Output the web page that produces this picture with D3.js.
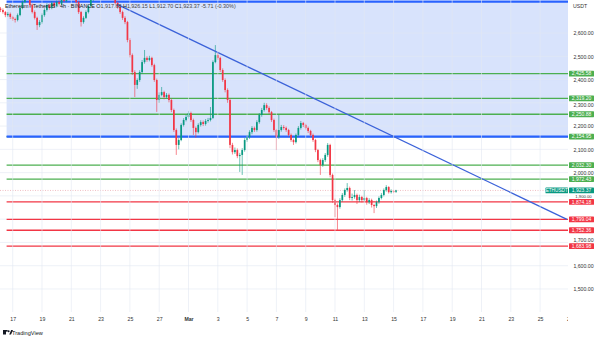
<!DOCTYPE html>
<html><head><meta charset="utf-8">
<script src="https://cdn.jsdelivr.net/npm/d3@7"></script>
<style>
html,body{margin:0;padding:0;background:#fff;}
svg{display:block;font-family:"Liberation Sans",Arial,sans-serif;}
</style></head>
<body>
<svg id="chart" width="600" height="339"></svg>
<script>
// ---- DATA (4h candles, BINANCE ETHUSDT) ----
const firstCandle = new Date(2025, 1, 16, 4, 0); // Feb 16 04:00
const firstOpen = 2705;
const closes = [
 2699,2690,2677,2682,2669,2660,2656,2677,2708,2733,
 2755,2764,2720,2690,2665,2634,2647,2677,2699,2720,
 2708,2729,2716,2733,2725,2751,2738,2755,2764,2751,
 2764,2733,2690,2647,2665,2690,2716,2742,2764,2785,
 2776,2794,2785,2776,2794,2785,2764,2729,2712,2690,
 2665,2647,2570,2505,2432,2377,2398,2432,2475,2493,
 2484,2493,2462,2398,2312,2334,2346,2325,2334,2312,
 2269,2183,2119,2140,2205,2226,2239,2256,2226,2192,
 2174,2205,2217,2209,2222,2226,2235,2475,2505,2493,
 2441,2398,2355,2312,2119,2088,2097,2071,2076,2097,
 2140,2153,2174,2192,2183,2217,2248,2269,2290,2278,
 2260,2226,2183,2153,2183,2196,2192,2183,2162,2140,
 2131,2162,2192,2213,2205,2192,2179,2162,2140,2097,
 2054,2033,2054,2076,2119,1990,1882,1861,1852,1882,
 1904,1925,1934,1891,1895,1904,1882,1895,1882,1891,
 1873,1882,1861,1856,1873,1891,1904,1925,1938,1916,
 1921,1917.68,1923.37];
const highs = [
 2712,2706,2695,2690,2688,2674,2666,2684,2715,2740,
 2768,2778,2770,2726,2697,2670,2655,2684,2706,2728,
 2726,2736,2735,2740,2741,2760,2757,2765,2775,2772,
 2776,2770,2738,2695,2672,2697,2722,2750,2772,2795,
 2798,2810,2805,2795,2808,2802,2792,2770,2735,2718,
 2696,2672,2652,2578,2512,2440,2405,2440,2484,2527,
 2500,2502,2498,2468,2404,2345,2368,2352,2342,2340,
 2318,2275,2190,2148,2212,2234,2248,2265,2262,2232,
 2198,2212,2225,2224,2230,2235,2282,2482,2548,2515,
 2498,2448,2405,2362,2318,2128,2108,2104,2085,2105,
 2148,2162,2182,2200,2198,2225,2256,2278,2300,2298,
 2285,2265,2232,2188,2248,2205,2204,2198,2188,2168,
 2146,2168,2200,2222,2218,2210,2198,2184,2168,2145,
 2102,2060,2062,2084,2127,2124,1996,1888,1868,1890,
 1912,1932,1955,1940,1910,1925,1910,1905,1900,1925,
 1896,1890,1888,1866,1880,1898,1912,1932,1946,1942,
 1928,1926,1926.15];
const lows = [
 2690,2683,2668,2670,2660,2652,2645,2650,2672,2702,
 2728,2748,2712,2684,2658,2613,2625,2640,2670,2692,
 2700,2702,2710,2710,2718,2720,2731,2732,2748,2744,
 2745,2726,2682,2628,2640,2660,2684,2710,2736,2758,
 2768,2770,2778,2768,2770,2778,2756,2722,2704,2682,
 2656,2638,2560,2495,2420,2325,2360,2390,2425,2468,
 2476,2478,2455,2390,2261,2300,2328,2315,2318,2302,
 2260,2175,2076,2100,2135,2198,2220,2232,2218,2162,
 2150,2168,2198,2200,2202,2215,2220,2230,2470,2485,
 2432,2390,2345,2300,2105,2078,2080,2062,2003,1990,
 2090,2132,2145,2165,2175,2176,2210,2240,2262,2270,
 2252,2218,2175,2097,2145,2176,2184,2175,2155,2132,
 2119,2125,2155,2185,2196,2185,2170,2155,2132,2088,
 2045,1990,2025,2046,2068,1980,1870,1809,1754,1845,
 1875,1896,1918,1882,1880,1888,1865,1874,1872,1876,
 1862,1865,1850,1826,1848,1866,1885,1898,1918,1910,
 1910,1912,1912.70];

const greenLevels = [2425.58, 2319.20, 2250.88, 2154.95, 2032.30, 1972.43];
const redLevels = [1874.18, 1799.04, 1752.36, 1683.98];
const zoneTop = 2735, zoneBottom = 2154.95;
const zoneStart = new Date(2025, 1, 16, 14, 0);
const trendStart = {date: new Date(2025, 1, 24, 4, 0), price: 2722};
const trendEnd = {date: new Date(2025, 2, 26, 20, 0), price: 1799.04};
const lastPrice = 1923.37;

const priceTicks = [1500,1600,1700,1800,1900,2000,2100,2200,2300,2400,2500,2600];
const timeTickDates = [
 new Date(2025,1,17),new Date(2025,1,19),new Date(2025,1,21),new Date(2025,1,23),
 new Date(2025,1,25),new Date(2025,1,27),new Date(2025,2,1),new Date(2025,2,3),
 new Date(2025,2,5),new Date(2025,2,7),new Date(2025,2,9),new Date(2025,2,11),
 new Date(2025,2,13),new Date(2025,2,15),new Date(2025,2,17),new Date(2025,2,19),
 new Date(2025,2,21),new Date(2025,2,23),new Date(2025,2,25),new Date(2025,2,27)];
const timeTickLabels = ["17","19","21","23","25","27","Mar","3","5","7","9","11","13","15","17","19","21","23","25","27"];

const legendName = "Ethereum / TetherUS · 4h · BINANCE";
const legendOHLC = [["O","1,917.68"],["H","1,926.15"],["L","1,912.70"],["C","1,923.37"]];
const legendChange = "-5.71 (-0.30%)";

// ---- LAYOUT ----
const W = 600, H = 339;
const plotL = 0, plotR = 568, plotT = 0, plotB = 312;
const svg = d3.select("#chart");

const DAY = 86400000;
const x0 = new Date(timeTickDates[0].getTime() - (12.7/14.65)*DAY);
const x1 = new Date(timeTickDates[0].getTime() + ((plotR-12.7)/14.65)*DAY);
const x = d3.scaleTime().domain([x0, x1]).range([plotL, plotR]);
const y = d3.scaleLinear().domain([2600 - (plotB-33)/0.2327, 2600 + 33/0.2327]).range([plotB, plotT]);

const candles = closes.map((c, i) => ({
  date: new Date(firstCandle.getTime() + i*4*3600000),
  open: i === 0 ? firstOpen : closes[i-1],
  close: c, high: highs[i], low: lows[i]
}));

const fmt = d3.format(",.2f");
const UP = "#089981", DOWN = "#f23645", GREEN = "#4caf50", BLUE = "#2962ff";

svg.append("defs").append("clipPath").attr("id","plotclip")
  .append("rect").attr("x",plotL).attr("y",plotT).attr("width",plotR-plotL).attr("height",plotB-plotT);

const plot = svg.append("g").attr("clip-path","url(#plotclip)");

// zone fill
plot.append("rect")
  .attr("x", x(zoneStart)).attr("y", y(zoneTop))
  .attr("width", plotR - x(zoneStart)).attr("height", y(zoneBottom) - y(zoneTop))
  .attr("fill", "#d8e3fc");

// grid
plot.append("g").selectAll("line").data(priceTicks).join("line")
  .attr("x1", plotL).attr("x2", plotR).attr("y1", d=>y(d)).attr("y2", d=>y(d))
  .attr("stroke", "#e3e8f2").attr("stroke-width", 0.6);
svg.append("g").selectAll("line").data(timeTickDates).join("line")
  .attr("x1", d=>x(d)).attr("x2", d=>x(d)).attr("y1", plotT).attr("y2", plotB)
  .attr("stroke", "#e3e8f2").attr("stroke-width", 0.6).lower();

// levels
plot.append("g").selectAll("line").data(greenLevels).join("line")
  .attr("x1", x(zoneStart)).attr("x2", plotR).attr("y1", d=>y(d)).attr("y2", d=>y(d))
  .attr("stroke", GREEN).attr("stroke-width", 1.3);
plot.append("g").selectAll("line").data(redLevels).join("line")
  .attr("x1", x(zoneStart)).attr("x2", plotR).attr("y1", d=>y(d)).attr("y2", d=>y(d))
  .attr("stroke", DOWN).attr("stroke-width", 1.3);

// zone borders
plot.append("line").attr("x1", x(zoneStart)).attr("x2", plotR)
  .attr("y1", y(zoneTop)).attr("y2", y(zoneTop)).attr("stroke", BLUE).attr("stroke-width", 2.2);
plot.append("line").attr("x1", x(zoneStart)).attr("x2", plotR)
  .attr("y1", y(zoneBottom)).attr("y2", y(zoneBottom)).attr("stroke", BLUE).attr("stroke-width", 2.2);

// last price dotted line
plot.append("line").attr("x1", plotL).attr("x2", plotR)
  .attr("y1", y(lastPrice)).attr("y2", y(lastPrice))
  .attr("stroke", "#e9a3ab").attr("stroke-width", 0.7).attr("stroke-dasharray", "1,1.5");

// candles
const cg = plot.append("g");
cg.selectAll("line").data(candles).join("line")
  .attr("x1", d=>x(d.date)).attr("x2", d=>x(d.date))
  .attr("y1", d=>y(d.high)).attr("y2", d=>y(d.low))
  .attr("stroke", d=>d.close>=d.open?UP:DOWN).attr("stroke-width", 0.6);
cg.selectAll("rect").data(candles).join("rect")
  .attr("x", d=>x(d.date)-0.85).attr("width", 1.7)
  .attr("y", d=>y(Math.max(d.open,d.close)))
  .attr("height", d=>Math.max(0.6, Math.abs(y(d.open)-y(d.close))))
  .attr("fill", d=>d.close>=d.open?UP:DOWN);

// trend line
plot.append("line")
  .attr("x1", x(trendStart.date)).attr("y1", y(trendStart.price))
  .attr("x2", x(trendEnd.date)).attr("y2", y(trendEnd.price))
  .attr("stroke", "#3b62d9").attr("stroke-width", 1.3);

// legend
const leg = svg.append("text").attr("x", 5).attr("y", 7.5)
  .attr("font-size", 5.4).attr("fill", "#131722");
leg.append("tspan").text(legendName + "   ");
legendOHLC.forEach(([k,v]) => {
  leg.append("tspan").text(" " + k);
  leg.append("tspan").attr("fill", "#444").text(v);
});
leg.append("tspan").attr("fill", "#444").text(" " + legendChange);

// price axis
const BOXH = 5.8;
const allLevels = greenLevels.concat(redLevels, [lastPrice]);
const visibleTicks = priceTicks.filter(t => !allLevels.some(l => Math.abs(y(l) - y(t)) < 2.5));
const pa = svg.append("g").attr("transform", `translate(${plotR},0)`);
pa.append("rect").attr("x",0).attr("y",0).attr("width",W-plotR).attr("height",plotB).attr("fill","#fff");
const yAxis = d3.axisRight(y).tickValues(visibleTicks).tickFormat(fmt).tickSize(0).tickPadding(14);
pa.call(yAxis);
pa.select(".domain").remove();
// fit each tick label into the free space between level tags
pa.selectAll(".tick text").each(function(t) {
  const yt = y(t);
  let top = -Infinity, bot = Infinity;
  allLevels.forEach(l => {
    const yl = y(l);
    if (yl < yt) top = Math.max(top, yl + BOXH/2);
    else bot = Math.min(bot, yl - BOXH/2);
  });
  let fs = 5.2, h = fs * 0.62, c = yt;
  if (bot - top < 2*h + 0.4) { fs = Math.max(3.6, (bot - top - 0.4) / 1.24); h = fs*0.62; c = (top + bot)/2; }
  else if (c - h < top) c = top + h + 0.2;
  else if (c + h > bot) c = bot - h - 0.2;
  d3.select(this).attr("font-size", fs).attr("fill", "#333").attr("text-anchor","middle")
    .attr("x", 15.5).attr("dy", (c - yt + fs*0.34) + "px");
});
pa.append("text").attr("x", 5).attr("y", 8).attr("font-size", 5.2).attr("fill","#333").text("USDT");

function levelLabel(p, color) {
  const g = pa.append("g").attr("transform", `translate(1,${y(p)})`);
  g.append("rect").attr("x",0).attr("y",-BOXH/2).attr("width",25).attr("height",BOXH).attr("fill",color).attr("rx",0.6);
  g.append("text").attr("x",12.5).attr("y",1.7).attr("text-anchor","middle")
    .attr("font-size",5).attr("fill","#fff").text(fmt(p));
}
greenLevels.forEach(p => levelLabel(p, GREEN));
redLevels.forEach(p => levelLabel(p, DOWN));
levelLabel(lastPrice, UP);
// symbol tag
const tag = svg.append("g").attr("transform", `translate(${plotR-22.5},${y(lastPrice)})`);
tag.append("rect").attr("x",0).attr("y",-BOXH/2).attr("width",22.5).attr("height",BOXH).attr("fill",UP).attr("rx",0.6);
tag.append("text").attr("x",11.2).attr("y",1.7).attr("text-anchor","middle").attr("font-size",4.7).attr("fill","#fff").text("ETHUSDT");

// time axis
const ta = svg.append("g").attr("transform", `translate(0,${plotB})`);
svg.select("defs").append("clipPath").attr("id","timeclip")
  .append("rect").attr("x",0).attr("y",-2).attr("width",plotR).attr("height",20);
const xAxis = d3.axisBottom(x).tickValues(timeTickDates)
  .tickFormat((d,i)=>timeTickLabels[i]).tickSize(0).tickPadding(5);
ta.attr("clip-path","url(#timeclip)").call(xAxis);
ta.select(".domain").remove();
ta.selectAll(".tick text").attr("font-size",5.2).attr("fill","#333")
  .attr("font-weight",(d,i)=>timeTickLabels[i]==="Mar"?"bold":"normal");

// TradingView logo
const logo = svg.append("g").attr("transform","translate(3,330)");
logo.append("rect").attr("x",0).attr("y",0).attr("width",3).attr("height",4.5).attr("fill","#131722");
logo.append("rect").attr("x",0).attr("y",0).attr("width",4.6).attr("height",1.6).attr("fill","#131722");
logo.append("circle").attr("cx",5.6).attr("cy",1.2).attr("r",1).attr("fill","#131722");
logo.append("path").attr("d","M6.2,4.5 L8.2,0 L10,0 L8,4.5 Z").attr("fill","#131722");
svg.append("text").attr("x",12).attr("y",334.5).attr("font-size",5.6).attr("fill","#131722").text("TradingView");
</script>
</body></html>
